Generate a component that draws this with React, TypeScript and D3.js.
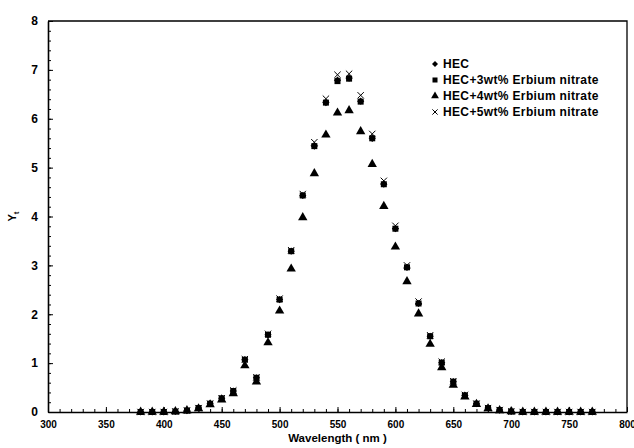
import React, { useEffect, useRef } from 'react';
import * as d3 from 'd3';

// wavelength in nm, every 10 nm
const wavelengths = [
  380, 390, 400, 410, 420, 430, 440, 450, 460, 470, 480, 490, 500, 510, 520, 530, 540, 550, 560, 570,
  580, 590, 600, 610, 620, 630, 640, 650, 660, 670, 680, 690, 700, 710, 720, 730, 740, 750, 760, 770,
];

const hec = [
  0, 0, 0, 0.01, 0.03, 0.08, 0.17, 0.28, 0.43, 1.07, 0.7, 1.58, 2.3, 3.29, 4.43, 5.44, 6.33, 6.79, 6.83, 6.36,
  5.6, 4.66, 3.75, 2.96, 2.22, 1.55, 1.01, 0.62, 0.34, 0.17, 0.08, 0.04, 0.01, 0, 0, 0, 0, 0, 0, 0,
];
const hec3 = [
  0, 0, 0, 0.01, 0.03, 0.08, 0.17, 0.28, 0.43, 1.07, 0.7, 1.58, 2.3, 3.29, 4.43, 5.44, 6.33, 6.77, 6.82, 6.35,
  5.6, 4.66, 3.75, 2.96, 2.22, 1.55, 1.01, 0.62, 0.34, 0.17, 0.08, 0.04, 0.01, 0, 0, 0, 0, 0, 0, 0,
];
const hec4 = [
  0, 0, 0, 0.01, 0.03, 0.07, 0.15, 0.25, 0.38, 0.95, 0.62, 1.42, 2.07, 2.93, 3.98, 4.88, 5.67, 6.12, 6.17, 5.74,
  5.07, 4.21, 3.38, 2.67, 2.01, 1.39, 0.91, 0.55, 0.31, 0.16, 0.07, 0.03, 0.01, 0, 0, 0, 0, 0, 0, 0,
];
const hec5 = [
  0, 0, 0, 0.01, 0.03, 0.08, 0.17, 0.28, 0.44, 1.08, 0.71, 1.6, 2.32, 3.31, 4.46, 5.52, 6.41, 6.9, 6.92, 6.48,
  5.69, 4.73, 3.81, 3.0, 2.26, 1.57, 1.03, 0.63, 0.35, 0.17, 0.08, 0.04, 0.01, 0, 0, 0, 0, 0, 0, 0,
];

const seriesNames = [
  'HEC',
  'HEC+3wt% Erbium nitrate',
  'HEC+4wt% Erbium nitrate',
  'HEC+5wt% Erbium nitrate',
];
const xTicks = [300, 350, 400, 450, 500, 550, 600, 650, 700, 750, 800];
const yTicks = [0, 1, 2, 3, 4, 5, 6, 7, 8];

const W = 634;
const H = 448;
const FONT = '"Liberation Sans", Arial, Helvetica, sans-serif';

// diamond = square turned 45deg, the others are d3 symbols
const markers = [
  { type: d3.symbolSquare, size: 26, rotate: 45, stroked: false },
  { type: d3.symbolSquare, size: 36, rotate: 0, stroked: false },
  { type: d3.symbolTriangle, size: 38, rotate: 0, stroked: false },
  { type: d3.symbolTimes, size: 28, rotate: 0, stroked: true },
];

export default function App() {
  const ref = useRef<SVGSVGElement>(null);

  useEffect(() => {
    const svg = d3.select(ref.current);
    svg.selectAll('*').remove();

    const left = 48, right = 627, top = 21, bottom = 412;

    const x = d3.scaleLinear().domain([300, 800]).range([left, right]);
    const y = d3.scaleLinear().domain([0, 8]).range([bottom, top]);

    // minor ticks
    svg.append('g')
      .attr('transform', `translate(0,${bottom})`)
      .call(d3.axisBottom(x).tickValues(d3.range(300, 801, 10)).tickSize(-3).tickFormat(() => ''))
      .call(g => g.select('.domain').remove());
    svg.append('g')
      .attr('transform', `translate(${left},0)`)
      .call(d3.axisLeft(y).tickValues(d3.range(0, 8.01, 0.2)).tickSize(-3).tickFormat(() => ''))
      .call(g => g.select('.domain').remove());

    // major axes
    const xAxis = svg.append('g')
      .attr('transform', `translate(0,${bottom})`)
      .call(d3.axisBottom(x).tickValues(xTicks).tickSize(-5).tickSizeOuter(0).tickPadding(9));
    const yAxis = svg.append('g')
      .attr('transform', `translate(${left},0)`)
      .call(d3.axisLeft(y).tickValues(yTicks).tickSize(-5).tickSizeOuter(0).tickPadding(10));

    [xAxis, yAxis].forEach(g => {
      g.selectAll('text')
        .attr('fill', '#000')
        .style('font-family', FONT)
        .style('font-weight', 'bold');
      g.select('.domain').attr('stroke-width', 1.6);
    });
    xAxis.selectAll('text').style('font-size', '10px');
    yAxis.selectAll('text').style('font-size', '12px');

    // box top and right
    svg.append('path')
      .attr('d', `M${left},${top}H${right}V${bottom}`)
      .attr('fill', 'none')
      .attr('stroke', '#000')
      .attr('stroke-width', 1.3);

    // axis titles
    svg.append('text')
      .attr('x', (left + right) / 2)
      .attr('y', 442)
      .attr('text-anchor', 'middle')
      .style('font-family', FONT)
      .style('font-weight', 'bold')
      .style('font-size', '11.5px')
      .text('Wavelength ( nm )');

    const yt = svg.append('text')
      .attr('transform', `translate(16,${(top + bottom) / 2}) rotate(-90)`)
      .attr('text-anchor', 'middle')
      .style('font-family', FONT)
      .style('font-weight', 'bold')
      .style('font-size', '11px');
    yt.append('tspan').text('Y');
    yt.append('tspan').attr('dy', 3).style('font-size', '8px').text('t');

    const allSeries = [hec, hec3, hec4, hec5];

    allSeries.forEach((vals, i) => {
      const m = markers[i];
      svg.append('g')
        .selectAll('path')
        .data(wavelengths.map((w, j) => ({ w, v: vals[j] })))
        .join('path')
        .attr('transform', d => `translate(${x(d.w)},${y(d.v)}) rotate(${m.rotate})`)
        .attr('d', d3.symbol().type(m.type).size(m.size)())
        .attr('fill', m.stroked ? 'none' : '#000')
        .attr('stroke', m.stroked ? '#000' : 'none')
        .attr('stroke-width', 1);
    });

    // legend
    const legend = svg.append('g').attr('transform', 'translate(435,64)');
    seriesNames.forEach((name, i) => {
      const m = markers[i];
      const row = legend.append('g').attr('transform', `translate(0,${i * 16})`);
      row.append('path')
        .attr('transform', `rotate(${m.rotate})`)
        .attr('d', d3.symbol().type(m.type).size(m.size * 0.7)())
        .attr('fill', m.stroked ? 'none' : '#000')
        .attr('stroke', m.stroked ? '#000' : 'none');
      row.append('text')
        .attr('x', 8)
        .attr('dy', '0.36em')
        .style('font-family', FONT)
        .style('font-weight', 'bold')
        .style('font-size', '12px')
        .style('letter-spacing', '0.35px')
        .text(name);
    });
  }, []);

  return (
    <svg
      ref={ref}
      width={W}
      height={H}
      style={{ position: 'absolute', left: 0, top: 0, background: '#fff' }}
    />
  );
}
